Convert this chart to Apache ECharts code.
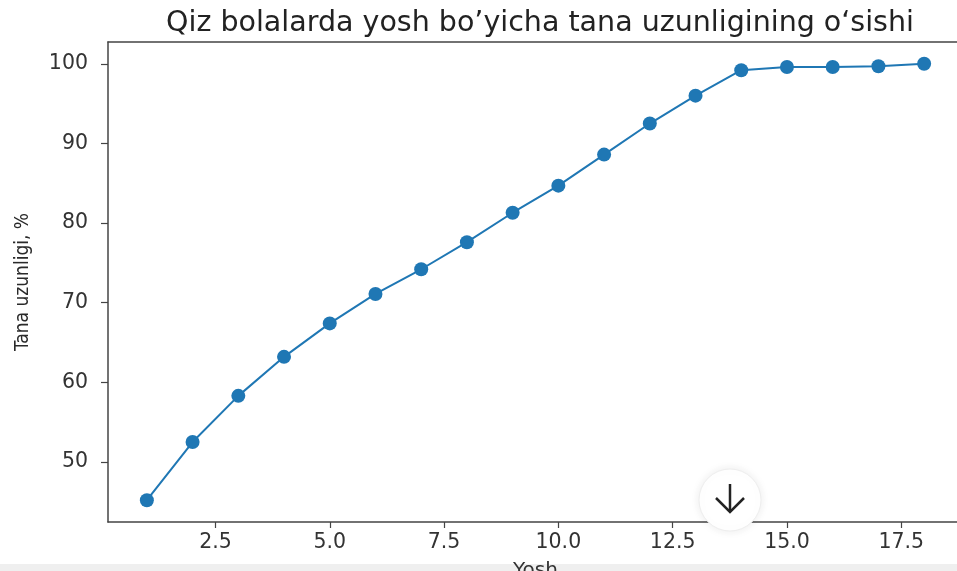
<!DOCTYPE html>
<html>
<head>
<meta charset="utf-8">
<script src="https://cdn.jsdelivr.net/npm/echarts@6.0.0/dist/echarts.min.js"></script>
<style>
  html, body { margin: 0; padding: 0; background: #fff; }
  #chart { width: 957px; height: 571px; }
</style>
</head>
<body>
<div id="chart"></div>
<script>
// Yosh (ages) and body length, % of adult value
const ages = [1, 2, 3, 4, 5, 6, 7, 8, 9, 10, 11, 12, 13, 14, 15, 16, 17, 18];
const lengthPct = [45.2, 52.5, 58.3, 63.2, 67.4, 71.1, 74.2, 77.6, 81.3, 84.7, 88.6, 92.5, 96.0, 99.2, 99.6, 99.6, 99.7, 100.0];
const xTicks = [2.5, 5.0, 7.5, 10.0, 12.5, 15.0, 17.5];
const yTicks = [50, 60, 70, 80, 90, 100];

const chart = echarts.init(document.getElementById("chart"), null, { renderer: "canvas" });

const axisColor = "#444";
const textColor = "#333";

const option = {
  backgroundColor: "#fff",
  animation: false,
  title: {
    text: "Qiz bolalarda yosh bo\u2019yicha tana uzunligining o\u2018sishi",
    left: 535,
    top: 4,
    textAlign: "center",
    textStyle: { fontFamily: "DejaVu Sans", fontSize: 28.5, fontWeight: "normal", color: "#222" },
  },
  grid: {
    left: 108, top: 42, width: 855, height: 480,
    outerBoundsMode: "none",
    containLabel: false,
  },
  xAxis: [
    {
      type: "value",
      min: 0.15,
      max: 18.85,
      name: "Yosh",
      nameLocation: "middle",
      nameGap: 39,
      nameTextStyle: { fontFamily: "DejaVu Sans", fontSize: 20, color: textColor },
      axisLine: { show: true, lineStyle: { color: axisColor, width: 1.5 } },
      axisTick: { show: true, length: 6, customValues: xTicks, lineStyle: { color: axisColor, width: 1.2 } },
      axisLabel: {
        customValues: xTicks,
        margin: 10,
        fontFamily: "DejaVu Sans", fontSize: 20.5, color: textColor,
        formatter: v => Number(v).toFixed(1),
      },
      splitLine: { show: false },
    },
    {
      // top spine only
      type: "value",
      position: "top",
      min: 0.15,
      max: 18.85,
      axisLine: { show: true, lineStyle: { color: axisColor, width: 1.5 } },
      axisTick: { show: false },
      axisLabel: { show: false },
      splitLine: { show: false },
    },
  ],
  yAxis: {
    type: "value",
    min: 42.46,
    max: 102.74,
    name: "Tana uzunligi, %",
    nameLocation: "middle",
    nameGap: 75,
    nameRotate: 90,
    nameTextStyle: { fontFamily: "DejaVu Sans Condensed, Liberation Sans", fontSize: 19, color: "#2a2a2a" },
    axisLine: { show: true, lineStyle: { color: axisColor, width: 1.5 } },
    axisTick: { show: true, length: 7, customValues: yTicks, lineStyle: { color: axisColor, width: 1.2 } },
    axisLabel: {
      customValues: yTicks,
      margin: 20,
      fontFamily: "DejaVu Sans", fontSize: 20.5, color: textColor,
    },
    splitLine: { show: false },
  },
  series: [
    {
      type: "line",
      data: ages.map((a, i) => [a, lengthPct[i]]),
      symbol: "circle",
      symbolSize: 14,
      lineStyle: { color: "#1f77b4", width: 2 },
      itemStyle: { color: "#1f77b4" },
      z: 3,
    },
  ],
  graphic: [
    // light band at the bottom edge (behind the axis name)
    {
      type: "rect",
      shape: { x: 0, y: 564, width: 957, height: 7 },
      style: { fill: "#efefef" },
      z: -10,
    },
    // scroll-down button overlay from the screenshot
    {
      type: "circle",
      shape: { cx: 730, cy: 500, r: 31 },
      style: { fill: "#fff", stroke: "#eeeeee", lineWidth: 1, shadowBlur: 10, shadowColor: "rgba(0,0,0,0.08)" },
      z: 100,
    },
    {
      type: "polyline",
      shape: { points: [[730, 484], [730, 512]] },
      style: { stroke: "#222", lineWidth: 2.5, fill: null },
      z: 101,
    },
    {
      type: "polyline",
      shape: { points: [[716, 498], [730, 512], [744, 498]] },
      style: { stroke: "#222", lineWidth: 2.5, fill: null },
      z: 101,
    },
  ],
};

chart.setOption(option);
</script>
</body>
</html>
